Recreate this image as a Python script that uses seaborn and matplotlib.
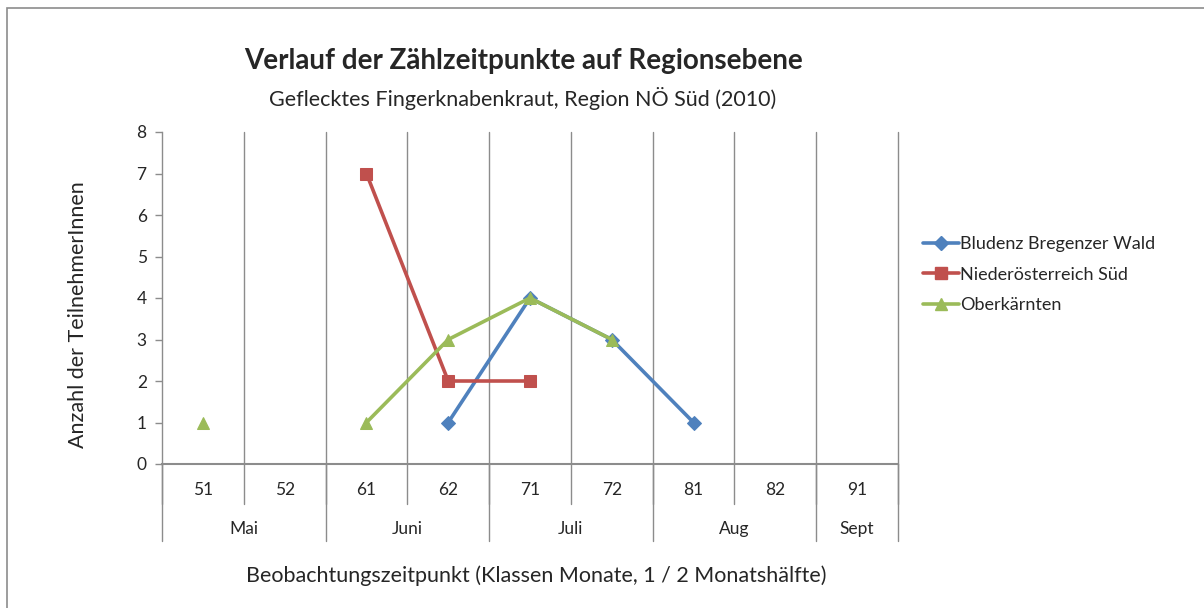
import numpy as np
import pandas as pd
import matplotlib.pyplot as plt
import seaborn as sns
from matplotlib.patches import Rectangle
from matplotlib.lines import Line2D

# categories (half-month classes) and month groups
categories = ["51", "52", "61", "62", "71", "72", "81", "82", "91"]
months = ["Mai", "Juni", "Juli", "Aug", "Sept"]
month_sizes = [2, 2, 2, 2, 1]

series_names = ["Bludenz Bregenzer Wald", "Niederösterreich Süd", "Oberkärnten"]
bludenz = [np.nan, np.nan, np.nan, 1, 4, 3, 1, np.nan, np.nan]
noe_sued = [np.nan, np.nan, 7, 2, 2, np.nan, np.nan, np.nan, np.nan]
oberkaernten = [1, np.nan, 1, 3, 4, 3, np.nan, np.nan, np.nan]

colors = ["#4F81BD", "#C0504D", "#9BBB59"]
markers = ["D", "s", "^"]

# long table, segments split at gaps so lines break like in Excel
rows = []
for name, vals in zip(series_names, [bludenz, noe_sued, oberkaernten]):
    seg = 0
    for i, v in enumerate(vals):
        if np.isnan(v):
            seg += 1
            continue
        rows.append({"serie": name, "pos": i, "wert": v, "seg": f"{name}_{seg}"})
df = pd.DataFrame(rows)

sns.set_style("white")
plt.rcParams["font.family"] = ["Lato", "DejaVu Sans"]
grid_col = "#8C8C8C"

fig = plt.figure(figsize=(12.04, 6.08), dpi=100)
ax = fig.add_axes([162 / 1204, 1 - 464 / 608, (898 - 162) / 1204, (464 - 132) / 608])

for name, col, mk in zip(series_names, colors, markers):
    sub = df[df["serie"] == name]
    sns.lineplot(data=sub, x="pos", y="wert", units="seg", estimator=None,
                 color=col, marker=mk, markersize=9 if mk != "D" else 7,
                 markeredgecolor=col, linewidth=2.6, ax=ax, legend=False)

ax.set_xlim(-0.5, len(categories) - 0.5)
ax.set_ylim(0, 8)
ax.set_yticks(range(0, 9))
ax.set_xticks([])
ax.set_xlabel("")
ax.tick_params(axis="y", length=5, width=1, color=grid_col, direction="out",
               labelsize=12.5, pad=6, left=True)
for s in ["top", "right"]:
    ax.spines[s].set_visible(False)
ax.spines["left"].set_color(grid_col)
ax.spines["bottom"].set_color(grid_col)
ax.spines["left"].set_linewidth(1)
ax.spines["bottom"].set_linewidth(1.5)

# vertical gridlines between categories (incl. right edge)
for b in np.arange(0.5, len(categories) + 0.5, 1.0):
    ax.axvline(b, color=grid_col, linewidth=1, zorder=0, clip_on=False)

# category labels and separators below the axis
trans = ax.get_xaxis_transform()
px = 1 / (464 - 132)
for i, c in enumerate(categories):
    ax.text(i, -26 * px, c, transform=trans, ha="center", va="center", fontsize=12.5)
for b in np.arange(-0.5, len(categories), 1.0):
    ax.add_line(Line2D([b, b], [0, -40 * px], transform=trans, color=grid_col,
                       linewidth=1, clip_on=False))
start = -0.5
for m, n in zip(months, month_sizes):
    ax.add_line(Line2D([start, start], [0, -77 * px], transform=trans, color=grid_col,
                       linewidth=1, clip_on=False))
    ax.text(start + n / 2, -65 * px, m, transform=trans, ha="center", va="center", fontsize=12.5)
    start += n
ax.add_line(Line2D([start, start], [0, -77 * px], transform=trans, color=grid_col,
                   linewidth=1, clip_on=False))

ax.set_ylabel("Anzahl der TeilnehmerInnen", fontsize=15.5)
ax.yaxis.set_label_coords(-(162 - 88) / 736, (464 - 315) / 332)
fig.text(536 / 1204, 1 - 576 / 608, "Beobachtungszeitpunkt (Klassen Monate, 1 / 2 Monatshälfte)",
         ha="center", va="center", fontsize=15.5)
fig.text(524 / 1204, 1 - 61 / 608, "Verlauf der Zählzeitpunkte auf Regionsebene",
         ha="center", va="center", fontsize=20, fontweight="bold")
fig.text(523 / 1204, 1 - 99 / 608, "Geflecktes Fingerknabenkraut, Region NÖ Süd (2010)",
         ha="center", va="center", fontsize=15.5)

handles = [Line2D([], [], color=c, marker=m, linewidth=2.6,
                  markersize=9 if m != "D" else 7, markeredgecolor=c)
           for c, m in zip(colors, markers)]
fig.legend(handles, series_names, loc="upper left", bbox_to_anchor=(916 / 1204, 1 - 229 / 608),
           frameon=False, fontsize=13, handlelength=2.0, handletextpad=0.05,
           labelspacing=0.8, borderaxespad=0)

fig.patches.append(Rectangle((7 / 1204, -0.1), 1.2, 1 - 8 / 608 + 0.1, transform=fig.transFigure,
                             fill=False, edgecolor="#8C8C8C", linewidth=1.2))

fig.savefig("out.png", dpi=100)
